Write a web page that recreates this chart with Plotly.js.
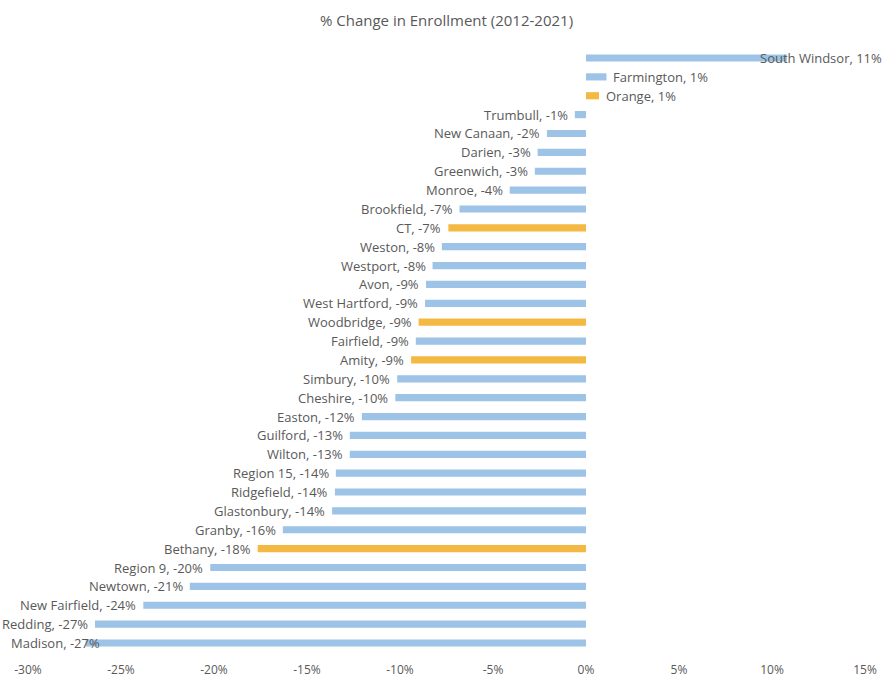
<!DOCTYPE html>
<html>
<head>
<meta charset="utf-8">
<script src="https://cdn.plot.ly/plotly-3.0.1.min.js"></script>
<style>html,body{margin:0;padding:0;background:#fff;}#chart{width:885px;height:678px;}</style>
</head>
<body>
<div id="chart"></div>
<script>
// Districts, top to bottom
const categories = [
  'South Windsor','Farmington','Orange','Trumbull','New Canaan','Darien','Greenwich','Monroe',
  'Brookfield','CT','Weston','Westport','Avon','West Hartford','Woodbridge','Fairfield','Amity',
  'Simbury','Cheshire','Easton','Guilford','Wilton','Region 15','Ridgefield','Glastonbury',
  'Granby','Bethany','Region 9','Newtown','New Fairfield','Redding','Madison'
];
// % change in enrollment 2012-2021
const values = [
  10.8, 1.1, 0.7, -0.6, -2.1, -2.6, -2.75, -4.1,
  -6.8, -7.4, -7.75, -8.25, -8.6, -8.65, -9.0, -9.15, -9.4,
  -10.15, -10.25, -12.05, -12.7, -12.7, -13.45, -13.5, -13.65,
  -16.3, -17.65, -20.2, -21.3, -23.8, -26.4, -26.9
];
// Data-label percentages as printed
const labelPct = [
  '11%','1%','1%','-1%','-2%','-3%','-3%','-4%',
  '-7%','-7%','-8%','-8%','-9%','-9%','-9%','-9%','-9%',
  '-10%','-10%','-12%','-13%','-13%','-14%','-14%','-14%',
  '-16%','-18%','-20%','-21%','-24%','-27%','-27%'
];
// Highlighted (gold) bars
const highlighted = ['Orange','CT','Woodbridge','Amity','Bethany'];

const xTickVals = [-30,-25,-20,-15,-10,-5,0,5,10,15];
const xTickText = ['-30%','-25%','-20%','-15%','-10%','-5%','0%','5%','10%','15%'];

const BLUE = '#9dc3e6', GOLD = '#f4b942', TXT = '#595959';
const colors = categories.map(c => highlighted.includes(c) ? GOLD : BLUE);

const margin = {l: 28, r: 20, t: 47, b: 24};

const annotations = categories.map((c, i) => {
  const v = values[i];
  const a = {
    xref: 'x', yref: 'y', x: v, y: c,
    text: c + ', ' + labelPct[i],
    showarrow: false,
    font: {family: 'Open Sans, Arial, sans-serif', size: 13, color: TXT},
    yanchor: 'middle'
  };
  if (v >= 0) { a.xanchor = 'left'; a.xshift = 5; }
  else { a.xanchor = 'right'; a.xshift = -5; }
  return a;
});
// keep the outermost labels inside the chart area
annotations[0].xref = 'paper'; annotations[0].x = 1; annotations[0].xanchor = 'right'; annotations[0].xshift = margin.r - 1;
const last = annotations.length - 1;
annotations[last].xref = 'paper'; annotations[last].x = 0; annotations[last].xanchor = 'left'; annotations[last].xshift = -(margin.l - 9);

const trace = {
  type: 'bar', orientation: 'h',
  y: categories, x: values,
  marker: {color: colors},
  hoverinfo: 'y+x'
};

const layout = {
  width: 885, height: 678,
  margin: margin,
  paper_bgcolor: '#fff', plot_bgcolor: '#fff',
  font: {family: 'Open Sans, Arial, sans-serif', color: TXT},
  title: {text: '% Change in Enrollment (2012-2021)', x: 0.5, xref: 'paper', y: 0.97, yanchor: 'middle',
          font: {size: 15, color: TXT}},
  bargap: 0.62,
  showlegend: false,
  xaxis: {
    range: [-30, 15], tickvals: xTickVals, ticktext: xTickText,
    showgrid: false, zeroline: false, showline: false,
    ticks: 'outside', ticklen: 5, tickcolor: 'rgba(0,0,0,0)',
    tickfont: {size: 12, color: TXT}, fixedrange: true
  },
  yaxis: {
    type: 'category', autorange: 'reversed',
    showticklabels: false, showgrid: false, zeroline: false, showline: false, ticks: '',
    fixedrange: true
  },
  annotations: annotations
};

Plotly.newPlot('chart', [trace], layout, {displayModeBar: false, staticPlot: true});
</script>
</body>
</html>
